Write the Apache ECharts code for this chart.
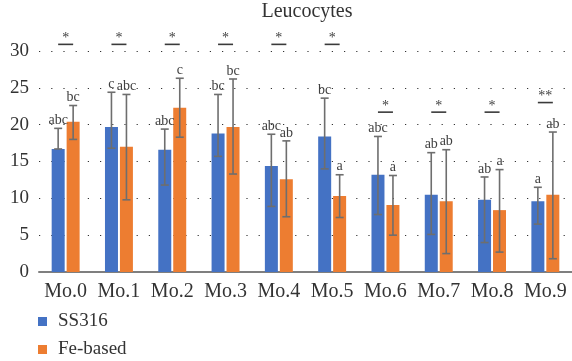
<!DOCTYPE html>
<html>
<head>
<meta charset="utf-8">
<script src="https://cdn.jsdelivr.net/npm/echarts@6/dist/echarts.min.js"></script>
<style>html,body{margin:0;padding:0;background:#fff;}#c{width:572px;height:361px;}</style>
</head>
<body>
<div id="c"></div>
<script>
const categories = ['Mo.0','Mo.1','Mo.2','Mo.3','Mo.4','Mo.5','Mo.6','Mo.7','Mo.8','Mo.9'];
const ss316 = [16.7,19.7,16.6,18.8,14.4,18.4,13.2,10.5,9.8,9.6];
const ss316Low = [16.7,16.8,11.8,15.7,8.9,14.0,7.8,5.1,4.0,6.5];
const ss316High = [19.5,24.4,19.4,24.1,18.7,23.6,18.4,16.2,12.9,11.5];
const ss316Letters = ['abc','c','abc','bc','abc','bc','abc','ab','ab','a'];
const fe = [20.4,17.0,22.3,19.7,12.6,10.3,9.1,9.6,8.4,10.5];
const feLow = [18.0,9.8,18.3,13.3,7.5,7.4,5.0,2.5,2.7,1.8];
const feHigh = [22.6,24.1,26.3,26.2,17.8,13.2,13.1,16.6,13.9,19.0];
const feLetters = ['bc','abc','c','bc','ab','a','a','ab','a','ab'];
const sigMarks = ['*','*','*','*','*','*','*','*','*','**'];
const sigLevel = [30.9,30.9,30.9,30.9,30.9,30.9,21.7,21.7,21.7,23.0];

const FONT = 'Liberation Serif';
const TXT = '#404040';
const ERR = '#6e6e6e';

function errRender(offset, letters) {
  return function (params, api) {
    const i = api.value(0);
    const x = api.coord([i, 0])[0] + offset;
    const lo = api.coord([i, api.value(1)])[1];
    const hi = api.coord([i, api.value(2)])[1];
    const c = 4;
    const st = { stroke: ERR, lineWidth: 1.6 };
    return {
      type: 'group',
      children: [
        { type: 'line', shape: { x1: x, y1: lo, x2: x, y2: hi }, style: st },
        { type: 'line', shape: { x1: x - c, y1: hi, x2: x + c, y2: hi }, style: st },
        { type: 'line', shape: { x1: x - c, y1: lo, x2: x + c, y2: lo }, style: st },
        { type: 'text', style: { text: letters[params.dataIndex], x: x, y: hi - 1, align: 'center', verticalAlign: 'bottom', fill: TXT, fontFamily: FONT, fontSize: 14 } }
      ]
    };
  };
}

function sigRender(params, api) {
  const i = api.value(0);
  const p = api.coord([i, api.value(1)]);
  return {
    type: 'group',
    children: [
      { type: 'line', shape: { x1: p[0] - 7.5, y1: p[1], x2: p[0] + 7.5, y2: p[1] }, style: { stroke: '#3a3a3a', lineWidth: 1.6 } },
      { type: 'text', style: { text: sigMarks[params.dataIndex], x: p[0], y: p[1] + 1, align: 'center', verticalAlign: 'bottom', fill: TXT, fontFamily: FONT, fontSize: 14 } }
    ]
  };
}

const chart = echarts.init(document.getElementById('c'));
chart.setOption({
  animation: false,
  title: { text: 'Leucocytes', left: 307, textAlign: 'center', top: 0, padding: [2, 0], textStyle: { fontFamily: FONT, fontSize: 20, fontWeight: 'normal', color: '#333' } },
  legend: {
    data: ['SS316', 'Fe-based'], orient: 'vertical', left: 38, top: 312, padding: 0,
    itemWidth: 9, itemHeight: 9, itemGap: 9, icon: 'rect',
    textStyle: { fontFamily: FONT, fontSize: 19, color: '#333', padding: [0, 0, 0, 6] }
  },
  grid: { left: 39, right: -5, top: 51, bottom: 89 },
  xAxis: {
    type: 'category', data: categories,
    axisLine: { lineStyle: { color: '#7f7f7f', width: 2 } },
    axisTick: { show: false },
    axisLabel: { fontFamily: FONT, fontSize: 20, color: '#333', margin: 10, interval: 0 }
  },
  yAxis: {
    type: 'value', min: 0, max: 30, interval: 5,
    axisLine: { show: false }, axisTick: { show: false },
    axisLabel: { fontFamily: FONT, fontSize: 19, color: '#333', margin: 10 },
    splitLine: { lineStyle: { color: '#333', type: [1.2, 11], width: 1.2 } }
  },
  series: [
    { name: 'SS316', type: 'bar', data: ss316, barWidth: 13, barGap: '15%', itemStyle: { color: '#4472C4' } },
    { name: 'Fe-based', type: 'bar', data: fe, barWidth: 13, itemStyle: { color: '#ED7D31' } },
    { type: 'custom', renderItem: errRender(-7.5, ss316Letters), clip: false, z: 5,
      encode: { x: 0, y: [1, 2] }, data: categories.map((c, i) => [i, ss316Low[i], ss316High[i]]) },
    { type: 'custom', renderItem: errRender(7.5, feLetters), clip: false, z: 5,
      encode: { x: 0, y: [1, 2] }, data: categories.map((c, i) => [i, feLow[i], feHigh[i]]) },
    { type: 'custom', renderItem: sigRender, clip: false, z: 5,
      encode: { x: 0, y: 1 }, data: categories.map((c, i) => [i, sigLevel[i]]) }
  ]
});
</script>
</body>
</html>
